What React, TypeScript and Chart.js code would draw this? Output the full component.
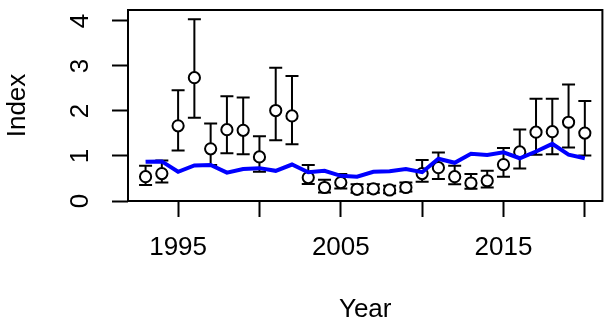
import React, { useEffect, useRef } from "react";
import { Chart, registerables } from "chart.js";

Chart.register(...registerables);

const years = [1993, 1994, 1995, 1996, 1997, 1998, 1999, 2000, 2001, 2002, 2003, 2004, 2005, 2006, 2007, 2008, 2009, 2010, 2011, 2012, 2013, 2014, 2015, 2016, 2017, 2018, 2019, 2020];
const indexValues = [0.54, 0.61, 1.67, 2.74, 1.16, 1.585, 1.57, 0.98, 2.01, 1.89, 0.52, 0.3, 0.41, 0.26, 0.27, 0.245, 0.3, 0.61, 0.74, 0.54, 0.4, 0.45, 0.81, 1.09, 1.53, 1.54, 1.75, 1.51];
const upperValues = [0.785, 0.9, 2.46, 4.04, 1.72, 2.33, 2.3, 1.44, 2.96, 2.78, 0.8, 0.47, 0.6, 0.37, 0.37, 0.34, 0.41, 0.91, 1.08, 0.785, 0.6, 0.67, 1.18, 1.59, 2.27, 2.27, 2.59, 2.22];
const lowerValues = [0.355, 0.41, 1.12, 1.85, 0.8, 1.06, 1.04, 0.65, 1.35, 1.26, 0.38, 0.19, 0.28, 0.185, 0.185, 0.17, 0.21, 0.43, 0.49, 0.37, 0.27, 0.3, 0.54, 0.72, 1.03, 1.04, 1.19, 1.01];
const fittedValues = [0.87, 0.88, 0.65, 0.79, 0.8, 0.63, 0.71, 0.73, 0.67, 0.81, 0.64, 0.67, 0.56, 0.54, 0.65, 0.66, 0.71, 0.64, 0.94, 0.85, 1.05, 1.02, 1.08, 0.95, 1.1, 1.27, 1.03, 0.95];

const xTickValues = [1995, 2000, 2005, 2010, 2015, 2020];
const xTickLabels = ["1995", "", "2005", "", "2015", ""];
const yTickValues = [0, 1, 2, 3, 4];
const yTickLabels = ["0", "1", "2", "3", "4"];

const xTitle = "Year";
const yTitle = "Index";

const FONT = "'Liberation Sans', Arial, sans-serif";

const errorBarPlugin = {
  id: "errorBars",
  beforeDatasetDraw(chart: any, args: any) {
    if (args.index !== 0) return;
    const ctx = chart.ctx;
    const xs = chart.scales.x;
    const ys = chart.scales.y;
    ctx.save();
    ctx.strokeStyle = "#000";
    ctx.lineWidth = 2;
    const half = 6.5;
    for (let i = 0; i < years.length; i++) {
      const x = xs.getPixelForValue(years[i]);
      const yU = ys.getPixelForValue(upperValues[i]);
      const yL = ys.getPixelForValue(lowerValues[i]);
      ctx.beginPath();
      ctx.moveTo(x, yU);
      ctx.lineTo(x, yL);
      ctx.moveTo(x - half, yU);
      ctx.lineTo(x + half, yU);
      ctx.moveTo(x - half, yL);
      ctx.lineTo(x + half, yL);
      ctx.stroke();
    }
    ctx.restore();
  },
};

const boxPlugin = {
  id: "plotBox",
  afterDraw(chart: any) {
    const { left, top, right, bottom } = chart.chartArea;
    const ctx = chart.ctx;
    ctx.save();
    ctx.strokeStyle = "#000";
    ctx.lineWidth = 2;
    ctx.strokeRect(left, top, right - left, bottom - top);
    ctx.restore();
  },
};

export default function App() {
  const canvasRef = useRef<HTMLCanvasElement | null>(null);

  useEffect(() => {
    if (!canvasRef.current) return;
    const chart = new Chart(canvasRef.current, {
      type: "scatter",
      data: {
        datasets: [
          {
            type: "scatter",
            label: "Index",
            data: years.map((y, i) => ({ x: y, y: indexValues[i] })),
            pointStyle: "circle",
            pointRadius: 5.6,
            pointBorderWidth: 2,
            pointBorderColor: "#000",
            pointBackgroundColor: "#fff",
            order: 2,
          } as any,
          {
            type: "line",
            label: "Fitted",
            data: years.map((y, i) => ({ x: y, y: fittedValues[i] })),
            borderColor: "#0000FF",
            borderWidth: 4,
            pointRadius: 0,
            tension: 0,
            fill: false,
            order: 1,
          } as any,
        ],
      },
      options: {
        animation: false,
        responsive: false,
        devicePixelRatio: 1,
        layout: { padding: { top: 10, right: 5, left: 0, bottom: 0 } },
        plugins: { legend: { display: false }, tooltip: { enabled: false } },
        scales: {
          x: {
            type: "linear",
            min: 1991.92,
            max: 2021.08,
            afterBuildTicks: (scale: any) => {
              scale.ticks = xTickValues.map((v) => ({ value: v }));
            },
            afterFit: (scale: any) => {
              scale.height = 128;
              scale.paddingLeft = 0;
              scale.paddingRight = 0;
            },
            border: { display: false },
            grid: {
              display: true,
              drawOnChartArea: false,
              drawTicks: true,
              tickLength: 16,
              tickWidth: 2,
              tickColor: "#000",
              color: "#000",
            },
            ticks: {
              autoSkip: false,
              maxRotation: 0,
              minRotation: 0,
              padding: 15,
              color: "#000",
              font: { family: FONT, size: 26 },
              callback: (_v: any, i: number) => xTickLabels[i],
            },
            title: {
              display: true,
              text: xTitle,
              color: "#000",
              font: { family: FONT, size: 26 },
              padding: { top: 0, bottom: 3.5 },
            },
          },
          y: {
            type: "linear",
            min: 0,
            max: 4.244,
            afterBuildTicks: (scale: any) => {
              scale.ticks = yTickValues.map((v) => ({ value: v }));
            },
            afterFit: (scale: any) => {
              scale.width = 128;
              scale.paddingTop = 0;
              scale.paddingBottom = 0;
            },
            border: { display: false },
            grid: {
              display: true,
              drawOnChartArea: false,
              drawTicks: true,
              tickLength: 16,
              tickWidth: 2,
              tickColor: "#000",
              color: "#000",
            },
            ticks: {
              autoSkip: false,
              minRotation: 90,
              maxRotation: 90,
              crossAlign: "center",
              padding: 23.8,
              color: "#000",
              font: { family: FONT, size: 26 },
              callback: (_v: any, i: number) => yTickLabels[i],
            },
            title: {
              display: true,
              text: yTitle,
              color: "#000",
              font: { family: FONT, size: 26 },
              padding: { top: 2.7, bottom: 0 },
            },
          },
        },
      },
      plugins: [errorBarPlugin, boxPlugin],
    } as any);
    return () => chart.destroy();
  }, []);

  return (
    <div style={{ position: "absolute", left: 0, top: 0, width: 610, height: 329, background: "#fff" }}>
      <canvas ref={canvasRef} width={610} height={329} style={{ display: "block" }} />
    </div>
  );
}
